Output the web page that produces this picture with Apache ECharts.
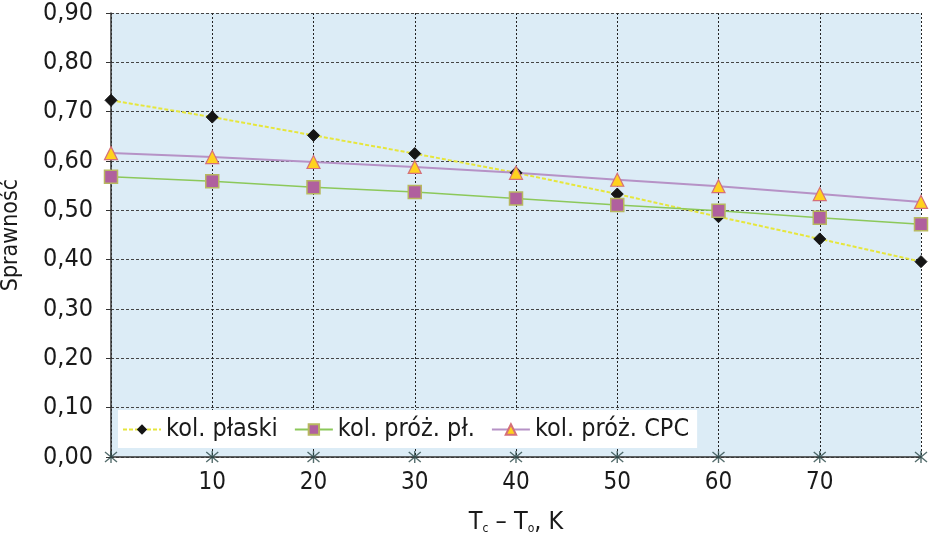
<!DOCTYPE html>
<html>
<head>
<meta charset="utf-8">
<script src="https://cdn.jsdelivr.net/npm/echarts@6/dist/echarts.min.js"></script>
<style>
  html, body { margin: 0; padding: 0; background: #fff; }
  #main { width: 930px; height: 542px; }
</style>
</head>
<body>
<div id="main"></div>
<script>
// dane
var tempDiff = [0, 10, 20, 30, 40, 50, 60, 70, 80];
var kolPlaski = [0.723, 0.689, 0.652, 0.615, 0.576, 0.533, 0.487, 0.442, 0.396];
var kolProzPl = [0.568, 0.559, 0.547, 0.537, 0.524, 0.511, 0.499, 0.485, 0.472];
var kolProzCPC = [0.616, 0.608, 0.598, 0.588, 0.576, 0.562, 0.549, 0.533, 0.517];
var seriesNames = ['kol. płaski', 'kol. próż. pł.', 'kol. próż. CPC'];

var FONT = '"DejaVu Sans Condensed", "Liberation Sans Narrow", sans-serif';

function pairs(ys) {
    return tempDiff.map(function (x, i) { return [x, ys[i]]; });
}

var myChart = echarts.init(document.getElementById('main'));
var option = {
    animation: false,
    grid: {
        left: 111, right: 9, top: 13, bottom: 85,
        outerBoundsMode: 'none', containLabel: false,
        show: true, backgroundColor: '#dcecf6', borderWidth: 0
    },
    legend: {
        data: seriesNames,
        left: 118, top: 410,
        padding: [7, 8, 6, 4],
        backgroundColor: '#ffffff',
        itemWidth: 38, itemHeight: 13, itemGap: 16,
        textStyle: { fontFamily: FONT, fontSize: 25, color: '#1a1a1a' }
    },
    xAxis: {
        type: 'value', min: 0, max: 80, interval: 10,
        name: '{b|T}{s|c}{b| – T}{s|o}{b|, K}',
        nameLocation: 'middle', nameGap: 52,
        nameTextStyle: {
            rich: {
                b: { fontFamily: FONT, fontSize: 25, color: '#1a1a1a' },
                s: { fontFamily: FONT, fontSize: 12, color: '#1a1a1a', verticalAlign: 'bottom', padding: [14, 0, 0, 0] }
            }
        },
        axisLine: { show: true, lineStyle: { color: '#333', width: 1.5 } },
        axisTick: { show: false },
        axisLabel: {
            fontFamily: FONT, fontSize: 24, color: '#1a1a1a', margin: 14,
            formatter: function (v) { return (v === 0 || v === 80) ? '' : String(v); }
        },
        splitLine: { show: true, lineStyle: { color: '#222', type: [2, 2], width: 1 } }
    },
    yAxis: {
        type: 'value', min: 0, max: 0.9, interval: 0.1,
        name: 'Sprawność', nameLocation: 'middle', nameGap: 88,
        nameTextStyle: { fontFamily: FONT, fontSize: 23, color: '#1a1a1a' },
        axisLine: { show: true, lineStyle: { color: '#333', width: 1.5 } },
        axisTick: { show: true, length: 5, lineStyle: { color: '#333' } },
        axisLabel: {
            fontFamily: FONT, fontSize: 25, color: '#1a1a1a', margin: 18,
            formatter: function (v) { return v.toFixed(2).replace('.', ','); }
        },
        splitLine: { show: true, lineStyle: { color: '#444', type: [3, 2], width: 1.2 } }
    },
    series: [
        {
            name: seriesNames[0], type: 'line', data: pairs(kolPlaski),
            symbol: 'diamond', symbolSize: 12,
            lineStyle: { color: '#e6e63c', width: 2, type: [4, 2] },
            itemStyle: { color: '#151515', borderColor: '#151515' }
        },
        {
            name: seriesNames[1], type: 'line', data: pairs(kolProzPl),
            symbol: 'rect', symbolSize: 13,
            lineStyle: { color: '#8cc85a', width: 1.5 },
            itemStyle: { color: '#b0609e', borderColor: '#b8b860', borderWidth: 1.5 }
        },
        {
            name: seriesNames[2], type: 'line', data: pairs(kolProzCPC),
            symbol: 'triangle', symbolSize: 13,
            lineStyle: { color: '#b692c6', width: 2 },
            itemStyle: { color: '#ffd21e', borderColor: '#d4707a', borderWidth: 1.2 }
        },
        {
            name: 'ticks', type: 'scatter',
            data: tempDiff.map(function (x) { return [x, 0]; }),
            symbol: 'path://M0,0L10,10M10,0L0,10M5,-1L5,11',
            symbolSize: 12, silent: true, z: 5,
            itemStyle: { color: 'none', borderColor: '#2b4848', borderWidth: 1.4 }
        }
    ]
};
myChart.setOption(option);
</script>
</body>
</html>
